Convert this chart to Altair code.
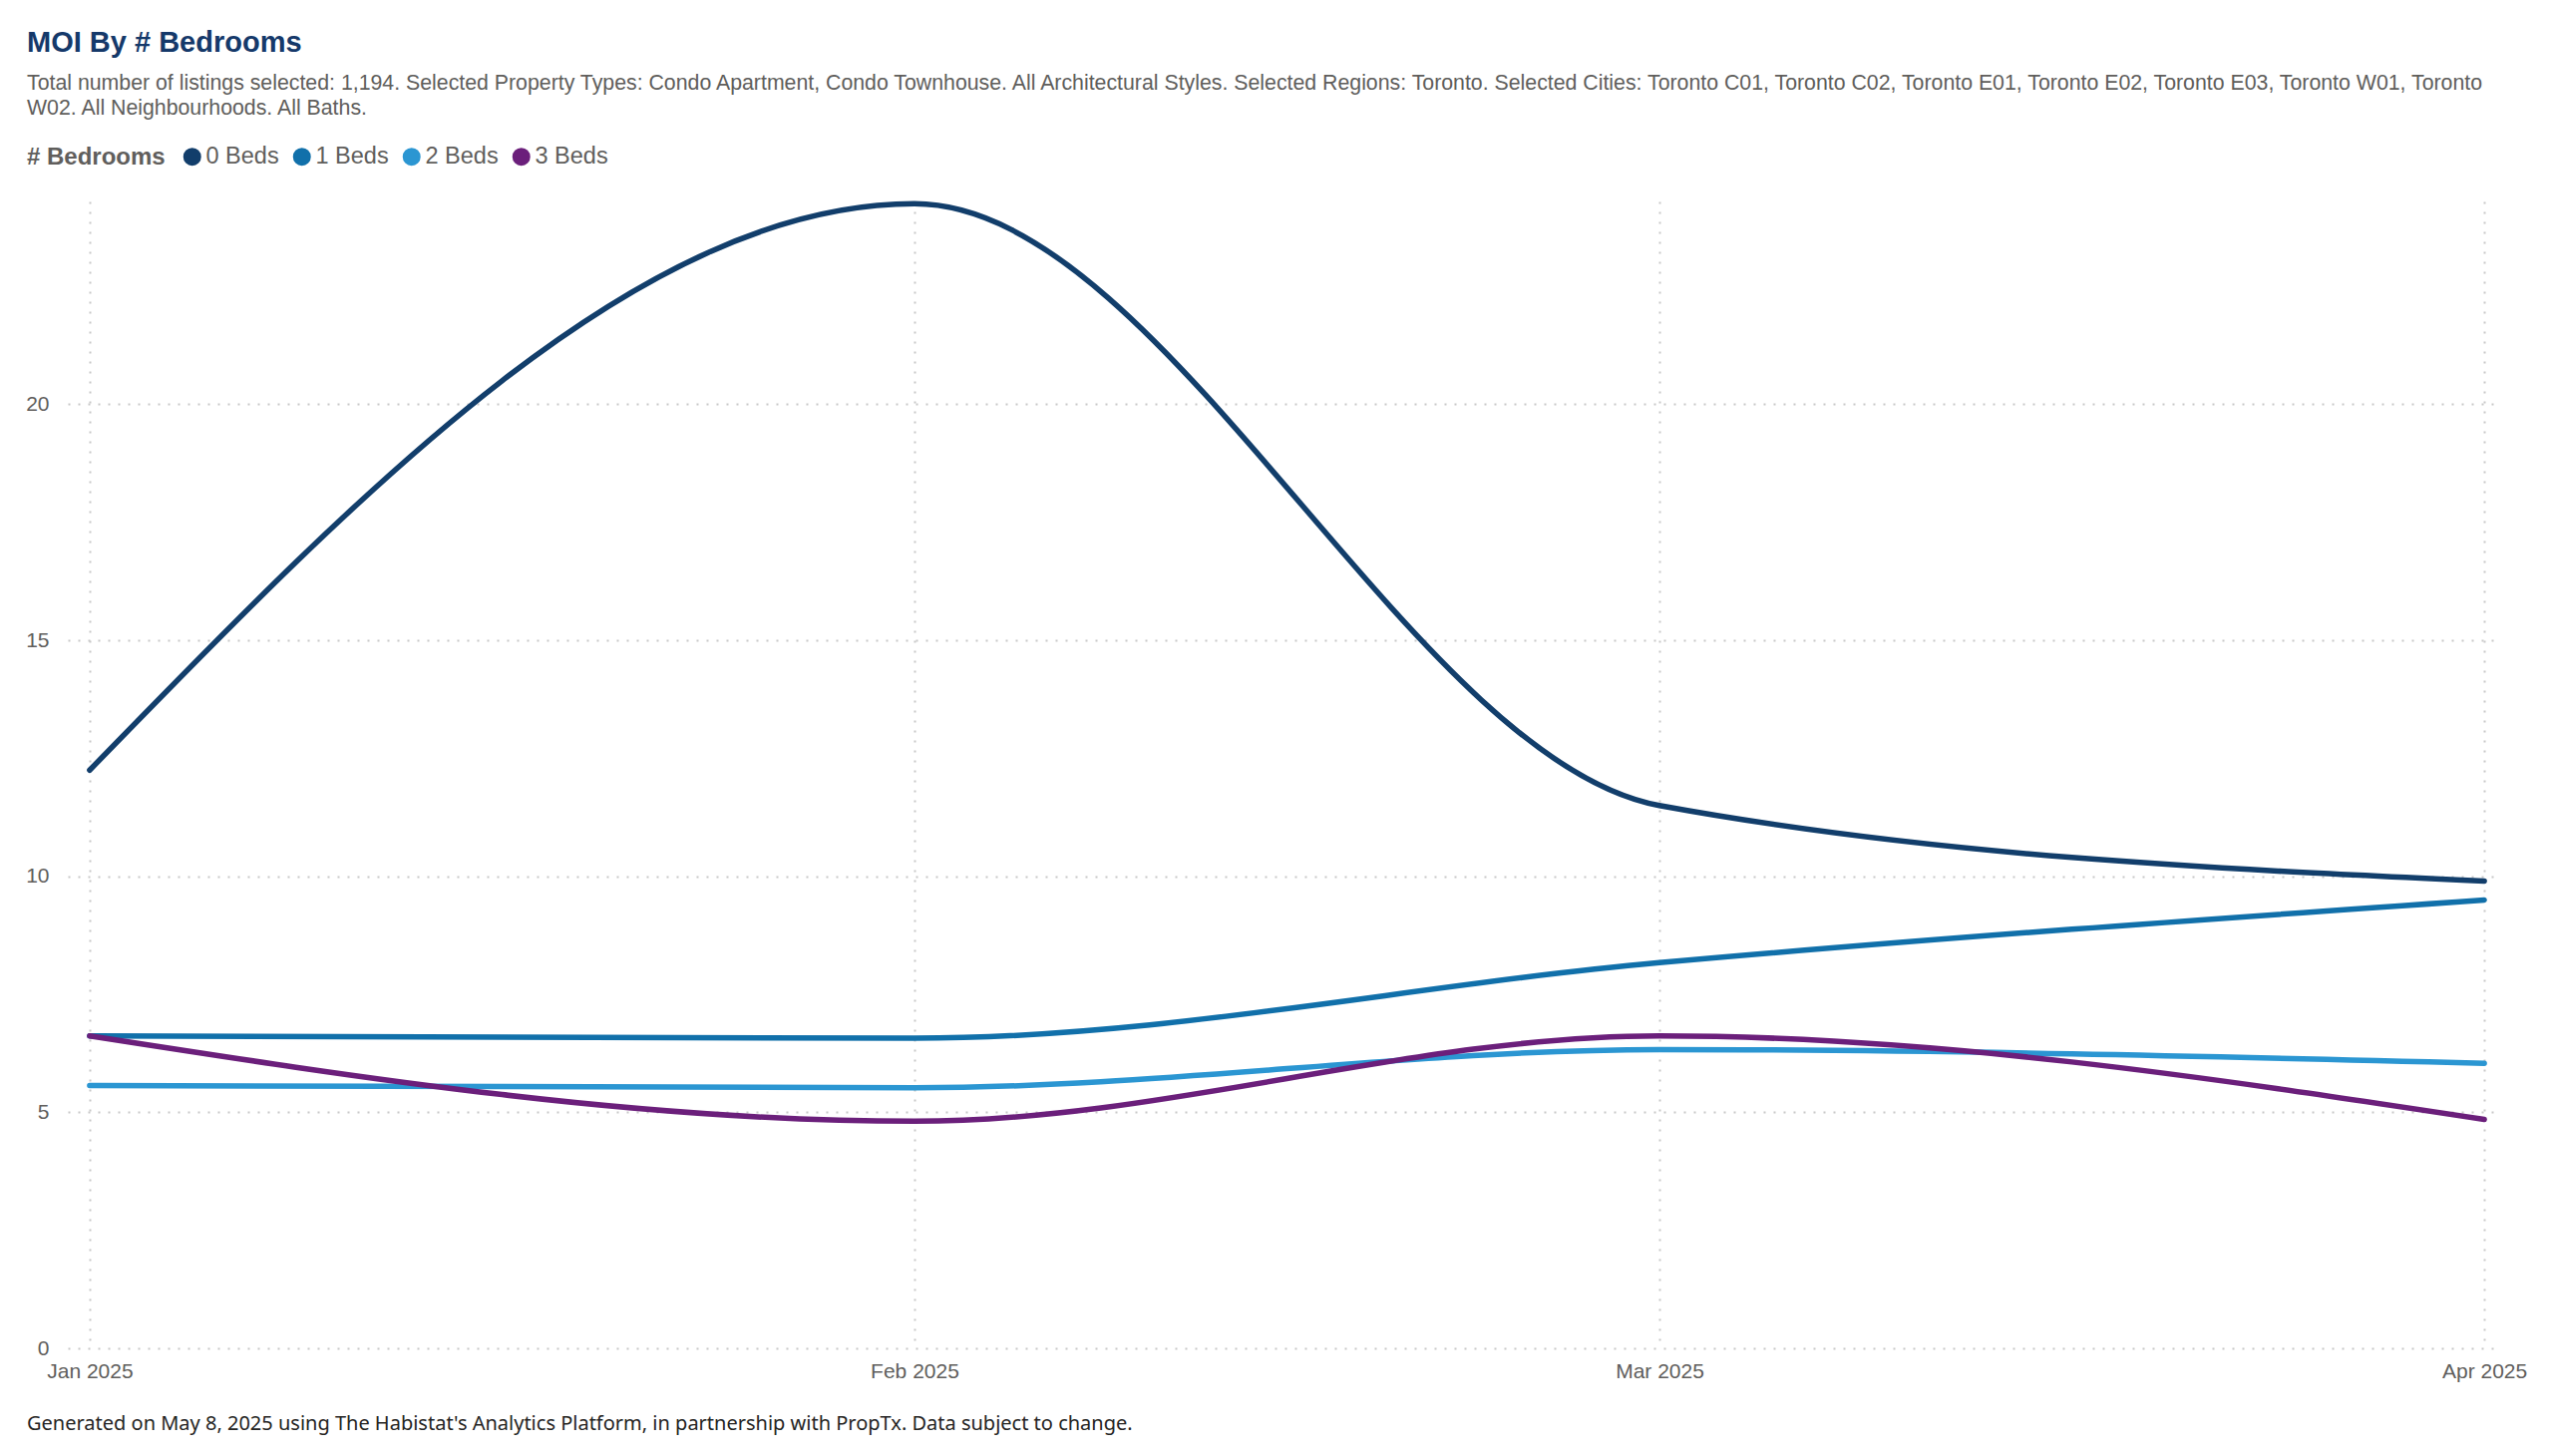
import altair as alt
import pandas as pd

dates = ["2025-01-01", "2025-02-01", "2025-03-01", "2025-04-01"]
categories = ["0 Beds", "1 Beds", "2 Beds", "3 Beds"]
beds0 = [12.25, 24.25, 11.5, 9.9]
beds1 = [6.62, 6.57, 8.17, 9.5]
beds2 = [5.57, 5.52, 6.33, 6.04]
beds3 = [6.62, 4.81, 6.62, 4.85]
colors = ["#123E6B", "#1170AA", "#2B96D2", "#6B1F7B"]

title_text = "MOI By # Bedrooms"
subtitle_lines = [
    "Total number of listings selected: 1,194. Selected Property Types: Condo Apartment, Condo Townhouse. All Architectural Styles. Selected Regions: Toronto. Selected Cities: Toronto C01, Toronto C02, Toronto E01, Toronto E02, Toronto E03, Toronto W01, Toronto",
    "W02. All Neighbourhoods. All Baths.",
]
footer_text = "Generated on May 8, 2025 using The Habistat's Analytics Platform, in partnership with PropTx. Data subject to change."

rows = []
for cat, vals in zip(categories, [beds0, beds1, beds2, beds3]):
    for d, v in zip(dates, vals):
        rows.append({"date": d, "moi": v, "bedrooms": cat})
df = pd.DataFrame(rows)

tick_dates = [alt.DateTime(year=2025, month=m, date=1, utc=True) for m in [1, 2, 3, 4]]

lines = alt.Chart(df).mark_line(strokeWidth=5.5, interpolate="monotone", strokeCap="round").encode(
    x=alt.X(
        "date:T",
        scale=alt.Scale(
            type="utc",
            domain=[
                alt.DateTime(year=2024, month=12, date=31, hours=4, minutes=18, utc=True),
                alt.DateTime(year=2025, month=4, date=1, hours=8, utc=True),
            ],
            nice=False,
        ),
        axis=alt.Axis(
            values=tick_dates,
            labelExpr="utcFormat(datum.value, '%b %Y')",
            title=None,
            domain=False,
            ticks=False,
            labelPadding=12,
            labelFontSize=21,
            labelColor="#605E5C",
            labelFont="Liberation Sans",
            labelBaseline="top",
            labelFlush=False,
            gridDash=[2, 8],
            gridColor="#C8C8C8",
            gridWidth=2,
        ),
    ),
    y=alt.Y(
        "moi:Q",
        scale=alt.Scale(domain=[0, 24.3], nice=False),
        axis=alt.Axis(
            values=[0, 5, 10, 15, 20],
            title=None,
            domain=False,
            ticks=False,
            labelPadding=19,
            labelFontSize=21,
            labelColor="#605E5C",
            labelFont="Liberation Sans",
            gridDash=[2, 8],
            gridColor="#C8C8C8",
            gridWidth=2,
        ),
    ),
    color=alt.Color(
        "bedrooms:N",
        scale=alt.Scale(domain=categories, range=colors),
        legend=alt.Legend(
            title="# Bedrooms",
            orient="none",
            legendX=-41,
            legendY=-57,
            direction="horizontal",
            titleOrient="left",
            titleAnchor="middle",
            titleBaseline="line-bottom",
            titleLineHeight=8,
            titleFontSize=24,
            titleFont="Liberation Sans",
            titleFontWeight="bold",
            titleColor="#605E5C",
            titlePadding=15,
            labelFontSize=23.5,
            labelFont="Liberation Sans",
            labelColor="#605E5C",
            labelOffset=2,
            symbolType="circle",
            symbolSize=81,
            symbolStrokeWidth=9,
            columnPadding=0,
        ),
    ),
)

footer = alt.Chart(pd.DataFrame({"t": [footer_text]})).mark_text(
    align="left", baseline="middle", fontSize=20, font="Noto Sans", color="#252423"
).encode(x=alt.value(-41), y=alt.value(1226), text="t:N")

chart = alt.layer(lines, footer).properties(
    width=2432,
    height=1150,
    padding={"left": 60, "top": 194, "right": 52, "bottom": 100},
    autosize=alt.AutoSizeParams(type="none"),
    title=alt.Title(
        text=title_text,
        subtitle=subtitle_lines,
        anchor="start",
        frame="group",
        dx=-41,
        offset=26,
        font="Liberation Sans",
        fontSize=29,
        fontWeight="bold",
        color="#15396A",
        subtitleFont="Liberation Sans",
        subtitleFontSize=21.3,
        subtitleColor="#605E5C",
        subtitleLineHeight=25,
        subtitlePadding=15,
    ),
).configure_view(stroke=None)

chart.save("out.html", embed_options={"renderer": "svg", "actions": False})
